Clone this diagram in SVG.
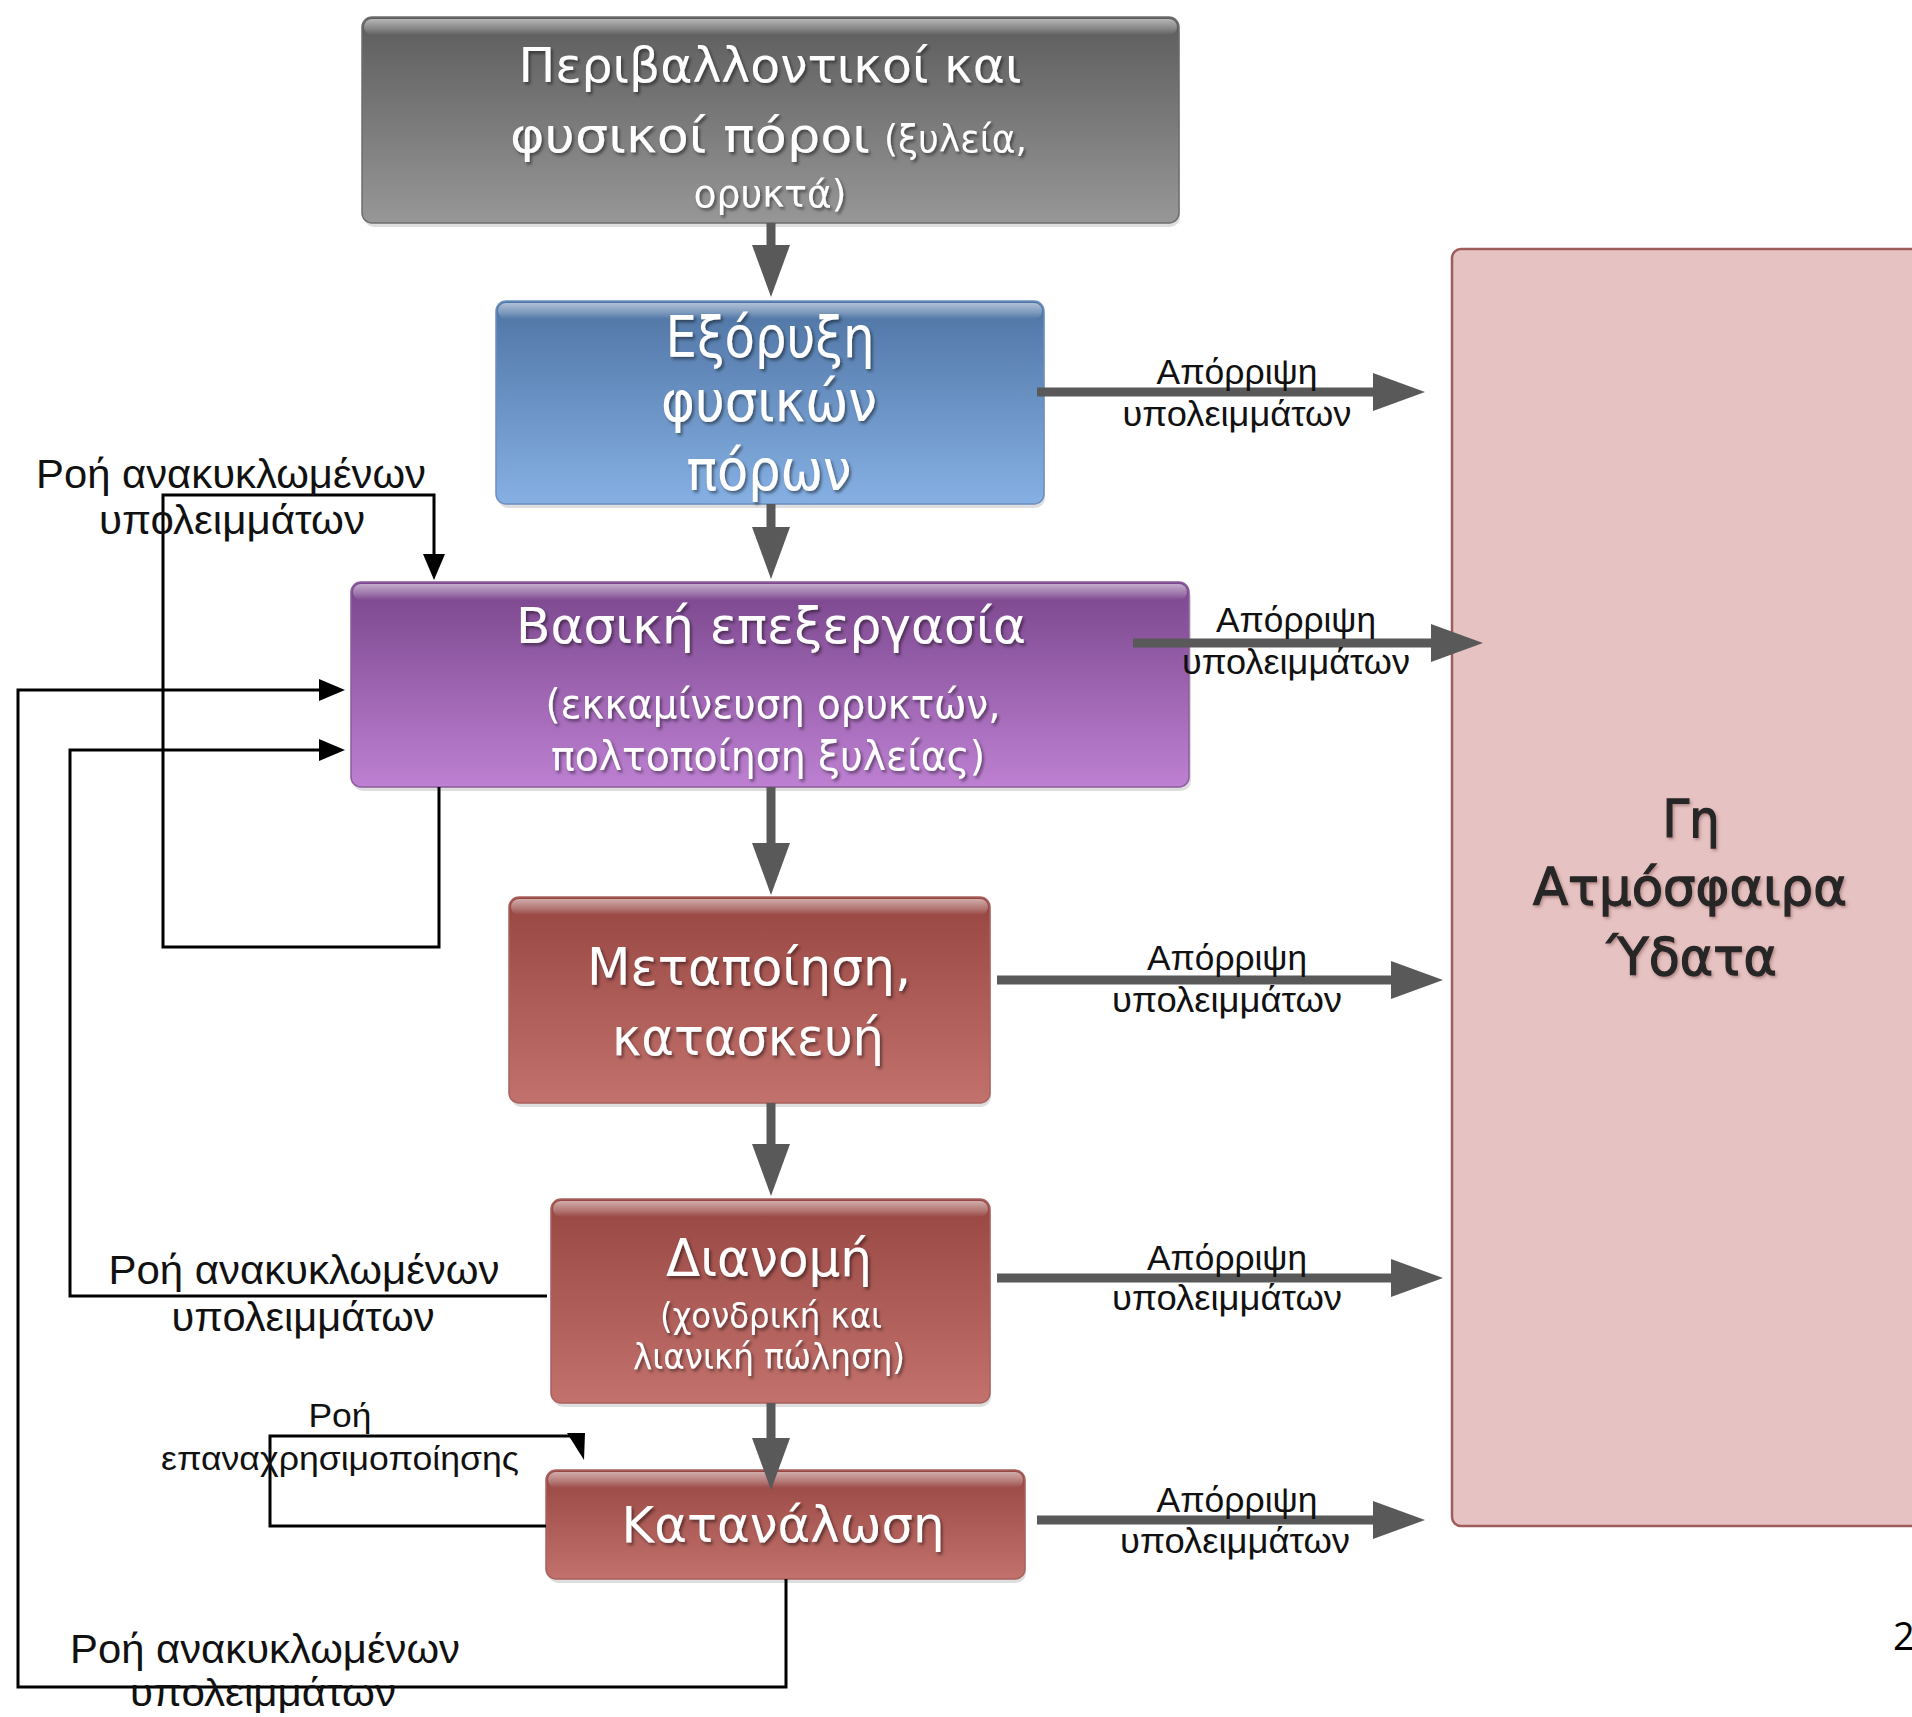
<svg xmlns="http://www.w3.org/2000/svg" width="1912" height="1717" viewBox="0 0 1912 1717">
<style>
.nt{font-family:"DejaVu Sans","Noto Sans",sans-serif;fill:#ffffff;filter:url(#ts);}
.lb{font-family:"Liberation Sans",Arial,sans-serif;fill:#111111;}
.big{font-family:"DejaVu Sans","Noto Sans",sans-serif;fill:#262626;stroke:#262626;stroke-width:1.3;filter:url(#ts2);}
.gl{stroke:#595959;stroke-width:9;fill:none;}
.bl{stroke:#000000;stroke-width:3;fill:none;}
.sh{fill:#000000;opacity:0.13;}
.hl{fill:url(#hi);}
</style>
<defs>
<filter id="ts" x="-10%" y="-30%" width="120%" height="160%">
<feDropShadow dx="2" dy="2.5" stdDeviation="1.5" flood-color="#000" flood-opacity="0.45"/>
</filter>
<filter id="ts2" x="-10%" y="-30%" width="120%" height="160%">
<feDropShadow dx="1.5" dy="2" stdDeviation="1.5" flood-color="#7a4a48" flood-opacity="0.5"/>
</filter>
<linearGradient id="gGray" x1="0" y1="0" x2="0" y2="1">
<stop offset="0" stop-color="#5c5c5c"/><stop offset="1" stop-color="#979797"/>
</linearGradient>
<linearGradient id="gBlue" x1="0" y1="0" x2="0" y2="1">
<stop offset="0" stop-color="#4e74a3"/><stop offset="1" stop-color="#86b0e4"/>
</linearGradient>
<linearGradient id="gPurple" x1="0" y1="0" x2="0" y2="1">
<stop offset="0" stop-color="#7a468c"/><stop offset="1" stop-color="#bd80d2"/>
</linearGradient>
<linearGradient id="gRed" x1="0" y1="0" x2="0" y2="1">
<stop offset="0" stop-color="#974642"/><stop offset="1" stop-color="#c2716c"/>
</linearGradient>
<linearGradient id="hi" x1="0" y1="0" x2="0" y2="1">
<stop offset="0" stop-color="#ffffff" stop-opacity="0.55"/><stop offset="0.6" stop-color="#ffffff" stop-opacity="0.25"/><stop offset="1" stop-color="#ffffff" stop-opacity="0"/>
</linearGradient>
<marker id="ga" markerUnits="userSpaceOnUse" markerWidth="52" markerHeight="38" refX="0" refY="19" orient="auto" overflow="visible">
<path d="M0,0 L52,19 L0,38 Z" fill="#595959"/>
</marker>
<marker id="ba" markerUnits="userSpaceOnUse" markerWidth="26" markerHeight="22" refX="0" refY="11" orient="auto" overflow="visible">
<path d="M0,0 L26,11 L0,22 Z" fill="#000000"/>
</marker>
</defs>
<rect width="1912" height="1717" fill="#ffffff"/>

<g id="env">
<rect x="1452" y="249" width="480" height="1277" rx="9" fill="#e6c3c2" stroke="#9e5c5a" stroke-width="2.5"/>
<text class="big" x="1691" y="837" text-anchor="middle" font-size="52" textLength="57" lengthAdjust="spacingAndGlyphs">Γη</text>
<text class="big" x="1690" y="905" text-anchor="middle" font-size="52" textLength="314" lengthAdjust="spacingAndGlyphs">Ατμόσφαιρα</text>
<text class="big" x="1692" y="975" text-anchor="middle" font-size="52" textLength="170" lengthAdjust="spacingAndGlyphs">Ύδατα</text>
</g>

<g id="resources">
<rect class="sh" x="364" y="22" width="816" height="205" rx="10"/>
<rect x="362" y="17" width="817" height="206" rx="10" fill="url(#gGray)" stroke="#6e6e6e" stroke-width="1.5"/>
<rect class="hl" x="364" y="19" width="813" height="16" rx="8"/>
<text class="nt" x="770" y="82" text-anchor="middle" font-size="48" textLength="503" lengthAdjust="spacingAndGlyphs">Περιβαλλοντικοί και</text>
<text class="nt" x="510" y="152" font-size="48" textLength="360" lengthAdjust="spacingAndGlyphs">φυσικοί πόροι</text>
<text class="nt" x="884" y="152" font-size="37" textLength="143" lengthAdjust="spacingAndGlyphs">(ξυλεία,</text>
<text class="nt" x="770" y="207" text-anchor="middle" font-size="37" textLength="153" lengthAdjust="spacingAndGlyphs">ορυκτά)</text>
</g>

<g id="extraction">
<rect class="sh" x="498" y="305" width="547" height="203" rx="10"/>
<rect x="496" y="301" width="548" height="203" rx="10" fill="url(#gBlue)" stroke="#6b8fbf" stroke-width="1.5"/>
<rect class="hl" x="498" y="303" width="544" height="16" rx="8"/>
<text class="nt" x="770" y="357" text-anchor="middle" font-size="57" textLength="209" lengthAdjust="spacingAndGlyphs">Εξόρυξη</text>
<text class="nt" x="769" y="421" text-anchor="middle" font-size="57" textLength="216" lengthAdjust="spacingAndGlyphs">φυσικών</text>
<text class="nt" x="769" y="490" text-anchor="middle" font-size="57" textLength="165" lengthAdjust="spacingAndGlyphs">πόρων</text>
</g>

<g id="processing">
<rect class="sh" x="353" y="587" width="838" height="204" rx="10"/>
<rect x="351" y="582" width="838" height="205" rx="10" fill="url(#gPurple)" stroke="#8c5c9c" stroke-width="1.5"/>
<rect class="hl" x="353" y="584" width="834" height="16" rx="8"/>
<text class="nt" x="771" y="643" text-anchor="middle" font-size="49" textLength="510" lengthAdjust="spacingAndGlyphs">Βασική επεξεργασία</text>
<text class="nt" x="773" y="718" text-anchor="middle" font-size="40" textLength="455" lengthAdjust="spacingAndGlyphs">(εκκαμίνευση ορυκτών,</text>
<text class="nt" x="768" y="770" text-anchor="middle" font-size="40" textLength="434" lengthAdjust="spacingAndGlyphs">πολτοποίηση ξυλείας)</text>
</g>

<g id="manufacturing">
<rect class="sh" x="511" y="901" width="480" height="206" rx="10"/>
<rect x="509" y="897" width="481" height="206" rx="10" fill="url(#gRed)" stroke="#a8615d" stroke-width="1.5"/>
<rect class="hl" x="511" y="899" width="477" height="16" rx="8"/>
<text class="nt" x="749" y="985" text-anchor="middle" font-size="52" textLength="324" lengthAdjust="spacingAndGlyphs">Μεταποίηση,</text>
<text class="nt" x="748" y="1055" text-anchor="middle" font-size="52" textLength="272" lengthAdjust="spacingAndGlyphs">κατασκευή</text>
</g>

<g id="distribution">
<rect class="sh" x="553" y="1203" width="438" height="204" rx="10"/>
<rect x="551" y="1199" width="439" height="204" rx="10" fill="url(#gRed)" stroke="#a8615d" stroke-width="1.5"/>
<rect class="hl" x="553" y="1201" width="435" height="16" rx="8"/>
<text class="nt" x="769" y="1276" text-anchor="middle" font-size="51" textLength="206" lengthAdjust="spacingAndGlyphs">Διανομή</text>
<text class="nt" x="771" y="1328" text-anchor="middle" font-size="35" textLength="222" lengthAdjust="spacingAndGlyphs">(χονδρική και</text>
<text class="nt" x="769" y="1369" text-anchor="middle" font-size="35" textLength="272" lengthAdjust="spacingAndGlyphs">λιανική πώληση)</text>
</g>

<g id="consumption">
<rect class="sh" x="548" y="1474" width="478" height="109" rx="10"/>
<rect x="546" y="1470" width="479" height="109" rx="10" fill="url(#gRed)" stroke="#a8615d" stroke-width="1.5"/>
<rect class="hl" x="548" y="1472" width="475" height="16" rx="8"/>
<text class="nt" x="783" y="1542" text-anchor="middle" font-size="50" textLength="323" lengthAdjust="spacingAndGlyphs">Κατανάλωση</text>
</g>

<g id="connectors">
<line class="gl" x1="771" y1="223" x2="771" y2="245" marker-end="url(#ga)"/>
<line class="gl" x1="771" y1="504" x2="771" y2="527" marker-end="url(#ga)"/>
<line class="gl" x1="771" y1="787" x2="771" y2="843" marker-end="url(#ga)"/>
<line class="gl" x1="771" y1="1103" x2="771" y2="1144" marker-end="url(#ga)"/>
<line class="gl" x1="771" y1="1403" x2="771" y2="1438" marker-end="url(#ga)"/>

<line class="gl" x1="1037" y1="392" x2="1373" y2="392" marker-end="url(#ga)"/>
<line class="gl" x1="1133" y1="643" x2="1431" y2="643" marker-end="url(#ga)"/>
<line class="gl" x1="997" y1="980" x2="1391" y2="980" marker-end="url(#ga)"/>
<line class="gl" x1="997" y1="1278" x2="1391" y2="1278" marker-end="url(#ga)"/>
<line class="gl" x1="1037" y1="1520" x2="1373" y2="1520" marker-end="url(#ga)"/>

<path class="bl" d="M439,787 V947 H163 V495 H434 V554" marker-end="url(#ba)"/>
<path class="bl" d="M786,1579 V1687 H18 V690 H319" marker-end="url(#ba)"/>
<path class="bl" d="M547,1296 H70 V750 H319" marker-end="url(#ba)"/>
<path class="bl" d="M546,1526 H270 V1436 H584"/>
<polygon points="567,1433 585,1433 584,1460" fill="#000000"/>
</g>

<g id="labels">
<text class="lb" x="1237" y="384" text-anchor="middle" font-size="35" textLength="161" lengthAdjust="spacingAndGlyphs">Απόρριψη</text>
<text class="lb" x="1237" y="426" text-anchor="middle" font-size="35" textLength="229" lengthAdjust="spacingAndGlyphs">υπολειμμάτων</text>
<text class="lb" x="1296" y="632" text-anchor="middle" font-size="35" textLength="160" lengthAdjust="spacingAndGlyphs">Απόρριψη</text>
<text class="lb" x="1296" y="674" text-anchor="middle" font-size="35" textLength="228" lengthAdjust="spacingAndGlyphs">υπολειμμάτων</text>
<text class="lb" x="1227" y="970" text-anchor="middle" font-size="35" textLength="160" lengthAdjust="spacingAndGlyphs">Απόρριψη</text>
<text class="lb" x="1227" y="1012" text-anchor="middle" font-size="35" textLength="230" lengthAdjust="spacingAndGlyphs">υπολειμμάτων</text>
<text class="lb" x="1227" y="1270" text-anchor="middle" font-size="35" textLength="160" lengthAdjust="spacingAndGlyphs">Απόρριψη</text>
<text class="lb" x="1227" y="1310" text-anchor="middle" font-size="35" textLength="230" lengthAdjust="spacingAndGlyphs">υπολειμμάτων</text>
<text class="lb" x="1237" y="1512" text-anchor="middle" font-size="35" textLength="161" lengthAdjust="spacingAndGlyphs">Απόρριψη</text>
<text class="lb" x="1235" y="1553" text-anchor="middle" font-size="35" textLength="230" lengthAdjust="spacingAndGlyphs">υπολειμμάτων</text>

<text class="lb" x="231" y="488" text-anchor="middle" font-size="40" textLength="390" lengthAdjust="spacingAndGlyphs">Ροή ανακυκλωμένων</text>
<text class="lb" x="232" y="534" text-anchor="middle" font-size="40" textLength="266" lengthAdjust="spacingAndGlyphs">υπολειμμάτων</text>
<text class="lb" x="304" y="1284" text-anchor="middle" font-size="40" textLength="391" lengthAdjust="spacingAndGlyphs">Ροή ανακυκλωμένων</text>
<text class="lb" x="303" y="1331" text-anchor="middle" font-size="40" textLength="263" lengthAdjust="spacingAndGlyphs">υπολειμμάτων</text>
<text class="lb" x="265" y="1663" text-anchor="middle" font-size="40" textLength="390" lengthAdjust="spacingAndGlyphs">Ροή ανακυκλωμένων</text>
<text class="lb" x="263" y="1706" text-anchor="middle" font-size="38" textLength="266" lengthAdjust="spacingAndGlyphs">υπολειμμάτων</text>
<text class="lb" x="340" y="1427" text-anchor="middle" font-size="33" textLength="63" lengthAdjust="spacingAndGlyphs">Ροή</text>
<text class="lb" x="340" y="1470" text-anchor="middle" font-size="33" textLength="358" lengthAdjust="spacingAndGlyphs">επαναχρησιμοποίησης</text>
<text x="1893" y="1650" font-family="'Open Sans','Liberation Sans',sans-serif" font-size="38" fill="#000000">2</text>
</g>
</svg>
